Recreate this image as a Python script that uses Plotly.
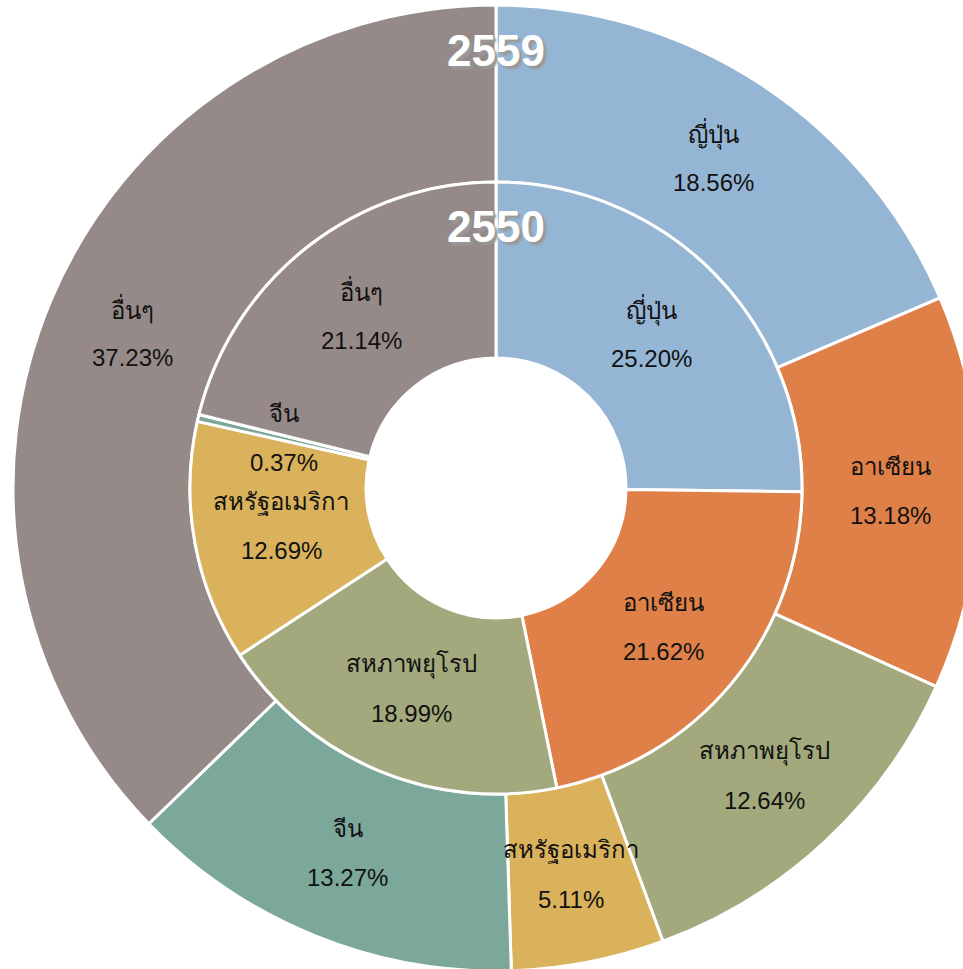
import math
import plotly.graph_objects as go

# ---- data ----
regions = ["ญี่ปุ่น", "อาเซียน", "สหภาพยุโรป", "สหรัฐอเมริกา", "จีน", "อื่นๆ"]
share_2559 = [18.56, 13.18, 12.64, 5.11, 13.27, 37.23]   # outer ring
share_2550 = [25.20, 21.62, 18.99, 12.69, 0.37, 21.14]   # inner ring
ring_titles = ["2559", "2550"]
colors = ["#95B5D4", "#DE8048", "#A3A97C", "#D9B25B", "#7CA79B", "#968A89"]

# ---- geometry (figure pixels; the donut slightly overflows the page, as in the original) ----
W, H = 980, 972
cx, cy = 496, 488
R_OUT = 483
R_MID = 306
R_HOLE = 130

FONT = "Arial, 'Liberation Sans', 'Noto Sans', sans-serif"


def dom(r):
    return dict(x=[(cx - r) / W, (cx + r) / W],
                y=[(H - cy - r) / H, (H - cy + r) / H])


fig = go.Figure()
fig.add_trace(go.Pie(
    labels=regions, values=share_2559, sort=False, direction="clockwise",
    rotation=0, hole=R_MID / R_OUT, textinfo="none", hoverinfo="skip",
    marker=dict(colors=colors, line=dict(color="white", width=3)),
    domain=dom(R_OUT), showlegend=False,
))
fig.add_trace(go.Pie(
    labels=regions, values=share_2550, sort=False, direction="clockwise",
    rotation=0, hole=R_HOLE / R_MID, textinfo="none", hoverinfo="skip",
    marker=dict(colors=colors, line=dict(color="white", width=3)),
    domain=dom(R_MID), showlegend=False,
))

annotations = []


def ring_labels(values, r_in, r_out):
    total = sum(values)
    r = (r_in + r_out) / 2
    cum = 0.0
    for lab, v in zip(regions, values):
        mid = (cum + v / 2) / total * 2 * math.pi
        cum += v
        px = cx + r * math.sin(mid)
        py = cy - r * math.cos(mid)
        xp, yp = px / W, 1 - py / H
        for text, shift in ((lab, 25), (f"{v:.2f}%", -24)):
            annotations.append(dict(
                x=xp, y=yp, xref="paper", yref="paper", text=text,
                showarrow=False, xanchor="center", yanchor="middle", yshift=shift,
                font=dict(family=FONT, size=24, color="#111111"),
            ))


ring_labels(share_2559, R_MID, R_OUT)
ring_labels(share_2550, R_HOLE, R_MID)

for title, r_top in zip(ring_titles, (R_OUT, R_MID)):
    annotations.append(dict(
        x=cx / W, y=1 - (cy - r_top + 45) / H, xref="paper", yref="paper",
        text=f"<b>{title}</b>", showarrow=False, xanchor="center", yanchor="middle",
        font=dict(family=FONT, size=44, color="white", shadow="3px 3px 2px #999999"),
    ))

fig.update_layout(
    width=W, height=H, margin=dict(l=0, r=0, t=0, b=0),
    paper_bgcolor="white", plot_bgcolor="white",
    annotations=annotations,
)

fig.write_html(
    "out.html",
    config={"displayModeBar": False, "staticPlot": True},
    post_script="document.body.style.margin='0';"
                "document.documentElement.style.overflow='hidden';"
                "document.body.style.overflow='hidden';",
)
